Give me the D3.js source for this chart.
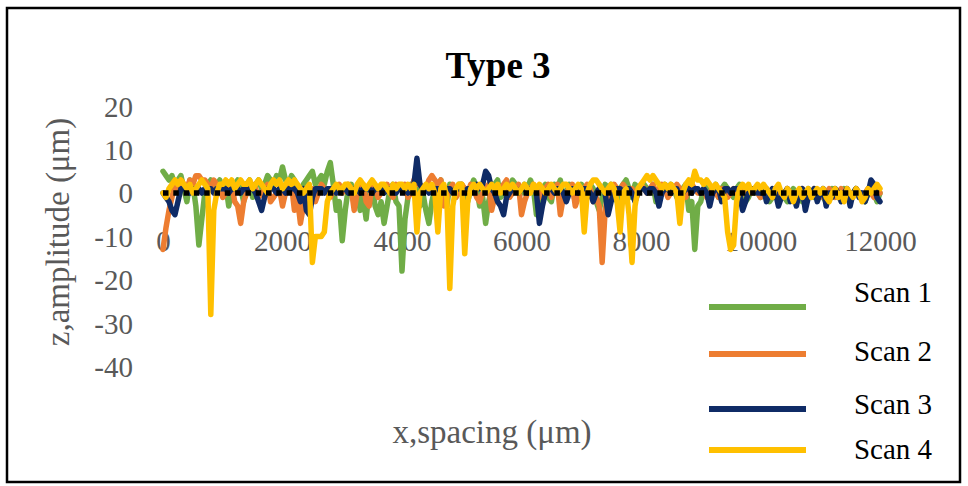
<!DOCTYPE html>
<html>
<head>
  <title>Type 3</title>
  <script src="https://d3js.org/d3.v7.min.js"></script>
  <style>
    body { margin: 0; background: #fff; }
    svg text { font-family: "Liberation Serif", "Times New Roman", serif; }
  </style>
</head>
<body>
<div id="chart"></div>
<script>
  // profile samples, one value every 50 um from 0 to 12000 um (20 per row = 1000 um)
  const xStep = 50;
  const scan1 = [
    5, 4, 3, 4, 2, 3, 4, 1, -2, 3, 2, -3, -12, -6, 0, 2, 3, 1, 2, 3,
    0, 2, -3, 1, 2, 3, 1, -2, 2, 3, -1, 2, 3, 1, 2, 4, 3, 2, 4, 3,
    6, 3, 2, 4, 3, -2, -3, 2, 3, 4, 5, 2, 3, 4, 2, 5, 7, 2, -4, -2,
    -11, -4, 1, 2, -2, 1, -4, -1, -6, 1, 2, -3, -5, -2, -7, -3, 1, 2, -2, -3,
    -18, -6, -1, 2, 1, 2, -3, 0, -4, -7, -2, 1, 2, 3, -2, -3, 2, 1, -1, 2,
    2, -1, -2, 1, 3, 1, -3, -1, -7, -2, 1, 2, 3, -1, 0, 2, 1, 3, 2, 1,
    0, 2, 1, 3, 1, -5, -2, 1, 2, -1, -2, 2, 1, 3, -1, 0, 2, 1, -2, 1,
    2, 1, -1, 2, 1, -2, -4, -1, 2, 1, 2, 0, -2, 1, 2, 3, 1, -1, 2, 1,
    1, 2, 1, 0, 2, -2, -1, 1, 2, 1, 2, 1, -1, 0, 1, 2, -4, -2, -13, -3,
    -2, 1, 2, 0, 1, 2, -1, 1, 2, 1, 0, -1, 1, 2, 0, -2, -1, 1, 0, 1,
    -1, 0, 1, -2, -1, 0, 1, 0, -1, -2, 0, 1, -1, 0, -2, -1, 1, 0, -1, 0,
    0, -1, -2, 0, 1, 0, -1, 0, 1, -1, -2, 0, 1, 0, -1, -2, 0, 1, 0, -2,
    0];
  const scan2 = [
    -13, -8, -4, -1, 2, 1, 3, 2, 1, 3, 2, 4, 4, 3, 3, 2, 1, 3, 2, 1,
    -1, 0, 1, 2, -2, -3, -7, -2, 0, 1, 2, 1, -1, 0, 1, 2, -2, -1, 0, 1,
    -3, 0, 1, 2, -4, -1, -7, -3, 0, 1, 1, -2, 0, 2, 1, 0, -1, 1, 0, 2,
    0, 1, 2, 1, -4, 0, 1, 2, -2, -3, 2, 1, -1, 0, 1, 2, 0, -1, 2, 1,
    1, 2, -1, 0, 3, 2, 2, 1, 1, 3, 4, 3, 2, 3, -3, -1, 1, 2, -1, 0,
    2, 1, 0, 2, 1, -1, -2, 0, 1, 2, -4, -1, 0, 1, 2, 3, -1, 0, 1, 2,
    -5, -2, 0, 1, 2, 1, -1, 0, 1, 2, -1, 1, 2, -5, -1, 0, 1, 2, -3, -1,
    0, 1, 2, 1, -2, -1, -3, -16, -4, 0, 1, 2, 1, 0, 2, 1, 0, 1, -1, 0,
    2, 1, 0, 1, 2, 0, 1, 2, 1, -1, 0, 1, 2, 1, 0, -1, 1, 2, 1, 0,
    0, 1, -1, 0, 1, 0, -1, 1, 0, -1, 0, 1, 0, -1, 0, 1, 0, 0, 1, 0,
    -1, 0, 1, 0, -1, 1, 0, -1, 0, 1, 0, 0, -1, 0, 1, 0, -1, 0, 1, 0,
    0, -1, 0, 1, 0, -1, 0, 1, 0, 0, -1, 0, 1, 0, -1, 0, 1, 0, -1, 0,
    0];
  const scan3 = [
    0, -1, -2, -4, -5, -2, 1, 1, 1, 0, 1, 1, 1, 0, 1, 1, 1, 0, 1, 1,
    1, 1, 0, 1, 1, 1, 0, 1, 1, 1, 1, 0, -2, -4, -1, 1, 1, 1, 0, 1,
    1, 0, 1, 1, 1, 0, -2, 1, -4, -5, -1, 1, 1, 1, 0, 1, 1, 1, 0, 1,
    1, 1, 0, 1, 1, 1, 0, 1, 1, 1, 0, 1, 1, 1, 0, 1, 1, 1, 0, 1,
    1, 1, 0, 1, 2, 8, 2, 1, 1, 0, 1, 1, 1, 0, 1, 1, 1, 0, 1, 1,
    1, 0, 1, 1, 1, 2, 1, 2, 5, 4, 1, 0, -2, -3, -5, -1, 0, 1, 1, 0,
    1, 1, 0, 1, 1, 0, -7, -3, 0, 1, 1, 0, 1, 1, 0, -2, 0, 1, 1, 0,
    1, 1, 1, 0, -2, 0, 1, 1, 0, -5, -2, 0, 1, 1, 0, 1, 1, 0, -2, 0,
    1, 1, 0, 1, 1, 0, -3, 0, 1, 1, 0, 1, 1, -2, 0, 1, 1, 0, 1, 1,
    0, 1, 0, -3, 0, 1, 1, -2, 1, 1, 0, 1, 1, 0, -4, -2, 0, 1, 1, 0,
    0, 1, -2, 0, 1, 0, -3, -1, 0, 1, -2, 0, -3, 0, 1, -4, -1, 0, 1, -2,
    0, 1, -3, 0, -1, 1, 0, -2, 0, 1, -3, 0, 1, -1, 0, -2, 0, 3, 2, -1,
    -2];
  const scan4 = [
    0, -1, 1, 2, 3, 2, 3, 2, 1, 2, 0, 1, 2, 3, 2, 1, -28, -4, 0, 2,
    2, 3, 2, 3, 1, 2, 3, 2, 2, 3, 1, 2, 3, 2, 1, 0, 2, 3, 2, 3,
    1, 2, 3, 2, 3, 2, 1, 0, 1, 2, -16, -10, -10, -10, -9, -2, 0, 1, 2, 1,
    1, 2, 2, 1, 0, 2, 3, 2, 1, 2, 3, 2, 1, 2, 2, 1, 0, 2, 1, 2,
    2, 1, 2, 1, 2, -9, 0, 1, 2, 1, 2, 0, -9, 1, 2, -1, -22, -3, 1, 2,
    2, -14, -2, 1, 2, 1, 2, 1, 0, 1, 2, 1, 2, 0, 1, 2, 1, 2, 1, 0,
    1, 2, 1, 0, 2, 1, 2, 1, 0, 1, 2, 1, 0, 1, 2, 2, 1, 0, 1, 2,
    1, -9, 0, 2, 3, 3, 2, 1, 0, 1, 2, 1, -2, -9, 0, 1, -5, -16, -3, 1,
    2, 3, 4, 3, 4, 3, 2, 1, 2, 1, 2, 1, 0, -7, 0, 2, 3, 2, 5, 3,
    3, 2, 3, 2, 1, 2, 1, 0, -1, -9, -13, -12, -2, 1, 2, 1, 2, 0, 1, 2,
    1, 2, 1, 0, -1, 1, 2, 0, -1, 1, 0, -2, 0, 1, -1, 0, 1, -1, 0, 1,
    0, 1, -1, -2, 0, 1, -1, 0, -2, 1, 0, -1, 1, 0, -2, -1, 1, 0, 1, 2,
    1];

  const seriesNames = ["Scan 1", "Scan 2", "Scan 3", "Scan 4"];
  const seriesValues = [scan1, scan2, scan3, scan4];
  const colors = ["#70AD47", "#ED7D31", "#0F2B66", "#FFC000"];
  const xTicks = [0, 2000, 4000, 6000, 8000, 10000, 12000];
  const yTicks = [20, 10, 0, -10, -20, -30, -40];

  const width = 968, height = 486;

  const svg = d3.select("#chart").append("svg")
    .attr("width", width)
    .attr("height", height);

  // outer frame
  svg.append("rect")
    .attr("x", 7).attr("y", 8)
    .attr("width", 953).attr("height", 474)
    .attr("fill", "none")
    .attr("stroke", "#000")
    .attr("stroke-width", 2.5);

  const x = d3.scaleLinear().domain([0, 12000]).range([163, 880]);
  const y = d3.scaleLinear().domain([-40, 20]).range([366.6, 106.2]);

  // title
  svg.append("text")
    .attr("x", 498).attr("y", 78)
    .attr("text-anchor", "middle")
    .attr("font-size", 37)
    .attr("font-weight", "bold")
    .attr("fill", "#000")
    .text("Type 3");

  // y axis labels only (no line)
  const yAxis = svg.append("g")
    .attr("transform", "translate(133,0)")
    .call(d3.axisLeft(y).tickValues(yTicks).tickFormat(d => String(d)).tickSize(0).tickPadding(0));
  yAxis.select(".domain").remove();
  yAxis.selectAll("text")
    .attr("font-size", 29)
    .attr("font-family", "Liberation Serif, serif")
    .attr("fill", "#595959")
    .attr("dy", "0.34em");

  // x axis labels, sitting below the zero line
  const xAxis = svg.append("g")
    .attr("transform", "translate(0,251)")
    .call(d3.axisBottom(x).tickValues(xTicks).tickFormat(d => String(d)).tickSize(0).tickPadding(0));
  xAxis.select(".domain").remove();
  xAxis.selectAll("text")
    .attr("font-size", 29)
    .attr("font-family", "Liberation Serif, serif")
    .attr("fill", "#595959")
    .attr("y", 0)
    .attr("dy", 0);

  // axis titles
  svg.append("text")
    .attr("transform", "translate(69,232) rotate(-90)")
    .attr("text-anchor", "middle")
    .attr("font-size", 33)
    .attr("fill", "#595959")
    .text("z,amplitude (μm)");

  svg.append("text")
    .attr("x", 492).attr("y", 443)
    .attr("text-anchor", "middle")
    .attr("font-size", 33)
    .attr("fill", "#595959")
    .text("x,spacing (μm)");

  // profile lines
  const line = d3.line()
    .x((d, i) => x(i * xStep))
    .y(d => y(d));

  seriesValues.forEach((vals, k) => {
    svg.append("path")
      .datum(vals)
      .attr("fill", "none")
      .attr("stroke", colors[k])
      .attr("stroke-width", 5.5)
      .attr("stroke-linejoin", "round")
      .attr("stroke-linecap", "round")
      .attr("d", line);
  });

  // dotted zero reference
  svg.append("line")
    .attr("x1", x(0)).attr("x2", x(12000))
    .attr("y1", y(0)).attr("y2", y(0))
    .attr("stroke", "#000")
    .attr("stroke-width", 5.5)
    .attr("stroke-dasharray", "5.5,4.8");

  // legend
  const legendY = [307, 354, 409, 450];
  const legendTextY = [302, 361, 414, 459];
  seriesNames.forEach((name, k) => {
    svg.append("line")
      .attr("x1", 709).attr("x2", 806)
      .attr("y1", legendY[k]).attr("y2", legendY[k])
      .attr("stroke", colors[k])
      .attr("stroke-width", 6);
    svg.append("text")
      .attr("x", 893).attr("y", legendTextY[k])
      .attr("text-anchor", "middle")
      .attr("font-size", 29)
      .attr("fill", "#000")
      .text(name);
  });
</script>
</body>
</html>
